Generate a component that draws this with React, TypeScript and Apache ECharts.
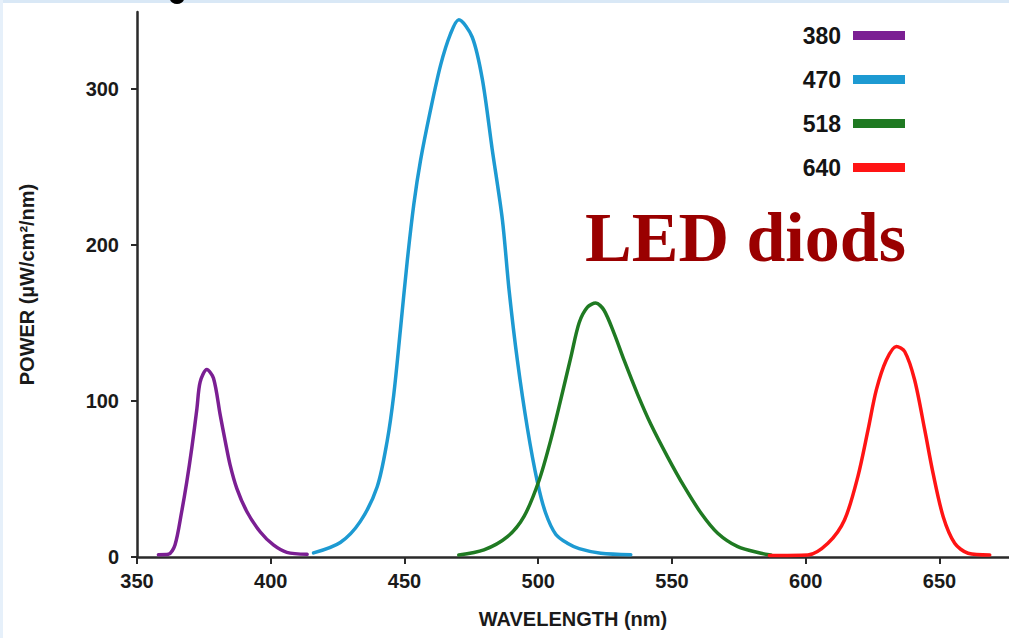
import React, { useEffect, useRef } from "react";
import * as echarts from "echarts";

const wl380 = [358, 361.7, 364.2, 366.7, 368.6, 370.5, 372.4, 373.6, 376.1, 378.6, 381.1, 383, 384.8, 387.3, 391.1, 396.1, 401, 406, 413.6];
const pw380 = [1.5, 1.7, 7.7, 29, 48, 70, 95, 112, 120, 114.5, 91, 74, 59, 44, 29, 16, 7.7, 3, 1.7];

const wl470 = [416, 426, 433.5, 439.8, 443.5, 446, 448.5, 451, 453.5, 456, 459.7, 463.5, 467.2, 470.3, 475.3, 479.1, 482.8, 486.6, 489.1, 492.2, 496, 499.7, 502.8, 506.6, 510.9, 515.3, 523.4, 534.6];
const pw470 = [2.6, 9.3, 22.8, 45, 74, 104, 146, 189, 226, 254, 286, 315, 335, 344, 333, 306, 261, 216, 171, 126, 82, 48, 28, 14.4, 8.8, 5.4, 2.4, 1.5];

const wl518 = [470.3, 479.7, 488.5, 494.7, 500.3, 504.7, 508.4, 512.2, 515.3, 518.4, 521.5, 524.6, 528.4, 532.1, 537.2, 542.1, 548.4, 554.6, 560.9, 567.1, 574.6, 583.3, 587];
const pw518 = [1.3, 4.5, 13, 26, 49, 75, 100.6, 128, 150, 160, 162.6, 158, 143, 126, 104, 85, 64, 45, 28, 15.2, 6.6, 2.4, 1.3];

const wl640 = [586.4, 600.8, 608.3, 614.5, 619.5, 623.3, 626.4, 630.1, 633.9, 637, 640.7, 644.5, 647.6, 651.4, 655.7, 660.7, 668.8];
const pw640 = [1, 1.3, 8.8, 23.7, 51.5, 81.4, 107, 126, 134.8, 131.6, 113.5, 81.4, 53.7, 25.8, 8.8, 2.4, 1.3];

const seriesNames = ["380", "470", "518", "640"];
const seriesColors = ["#7b1f93", "#1d9ad2", "#1f7a22", "#ff1414"];
const xTicks = [350, 400, 450, 500, 550, 600, 650];
const yTicks = [0, 100, 200, 300];

const AXIS_FONT = "Liberation Sans, Arial, Helvetica, sans-serif";

export default function App() {
  const ref = useRef<HTMLDivElement>(null);

  useEffect(() => {
    if (!ref.current) return;
    const chart = echarts.init(ref.current, undefined, { renderer: "svg" });
    const xs = [wl380, wl470, wl518, wl640];
    const ys = [pw380, pw470, pw518, pw640];
    const axisColor = "#2a2a2a";

    chart.setOption({
      animation: false,
      backgroundColor: "#ffffff",
      grid: { left: 137, right: 0, top: 12, bottom: 81, containLabel: false },
      legend: {
        orient: "vertical",
        right: 99,
        top: 19,
        align: "right",
        icon: "rect",
        itemWidth: 52,
        itemHeight: 9,
        itemGap: 21,
        data: seriesNames,
        textStyle: {
          fontFamily: AXIS_FONT,
          fontWeight: "bold",
          fontSize: 23,
          color: "#141414",
          padding: [0, 7, 0, 0],
        },
      },
      xAxis: {
        type: "value",
        min: 350,
        max: 676,
        name: "WAVELENGTH (nm)",
        nameLocation: "middle",
        nameGap: 52,
        nameTextStyle: { fontFamily: AXIS_FONT, fontWeight: "bold", fontSize: 20, color: "#1a1a1a" },
        axisLine: { show: true, lineStyle: { color: axisColor, width: 2.5 } },
        axisTick: { show: true, inside: false, length: 7, lineStyle: { color: axisColor, width: 2 }, customValues: xTicks },
        axisLabel: {
          customValues: xTicks,
          margin: 14,
          fontFamily: AXIS_FONT,
          fontWeight: "bold",
          fontSize: 20,
          color: "#1a1a1a",
        },
        splitLine: { show: false },
      },
      yAxis: {
        type: "value",
        min: 0,
        max: 349,
        name: "POWER (µW/cm²/nm)",
        nameLocation: "middle",
        nameGap: 100,
        nameRotate: 90,
        nameTextStyle: { fontFamily: AXIS_FONT, fontWeight: "bold", fontSize: 20, color: "#1a1a1a" },
        axisLine: { show: true, lineStyle: { color: axisColor, width: 2.5 } },
        axisTick: { show: true, inside: false, length: 6, lineStyle: { color: axisColor, width: 2 }, customValues: yTicks },
        axisLabel: {
          customValues: yTicks,
          margin: 18,
          fontFamily: AXIS_FONT,
          fontWeight: "bold",
          fontSize: 20,
          color: "#1a1a1a",
        },
        splitLine: { show: false },
      },
      series: seriesNames.map((name, i) => ({
        name,
        type: "line",
        smooth: 0.3,
        showSymbol: false,
        symbol: "none",
        color: seriesColors[i],
        lineStyle: { color: seriesColors[i], width: 3.5, cap: "round", join: "round" },
        data: xs[i].map((x, j) => [x, ys[i][j]]),
      })),
      graphic: [
        { type: "rect", left: 0, top: 0, shape: { width: 1009, height: 3 }, style: { fill: "#d9e8f6" }, silent: true },
        { type: "rect", left: 0, top: 0, shape: { width: 3, height: 638 }, style: { fill: "#e6f0fa" }, silent: true },
        { type: "ellipse", shape: { cx: 177, cy: -1, rx: 7, ry: 5 }, style: { fill: "#000000" }, silent: true },
        {
          type: "text",
          x: 585,
          y: 237,
          style: {
            text: "LED diods",
            fontFamily: "Liberation Serif, Times New Roman, serif",
            fontWeight: "bold",
            fontSize: 70,
            fill: "#9a0000",
            verticalAlign: "middle",
            align: "left",
          },
          silent: true,
        },
      ],
    });

    return () => chart.dispose();
  }, []);

  return (
    <div
      ref={ref}
      style={{ position: "absolute", left: 0, top: 0, width: 1009, height: 638, background: "#ffffff" }}
    />
  );
}
